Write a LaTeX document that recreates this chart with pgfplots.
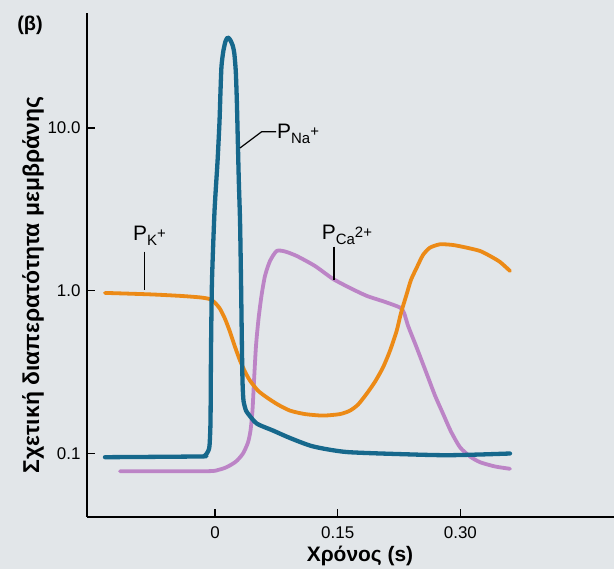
\documentclass[border=0pt]{standalone}
\usepackage{fontspec}
\setmainfont{Liberation Sans}
\usepackage{pgfplots}
\pgfplotsset{compat=1.18}
\definecolor{nablue}{RGB}{22,104,140}
\definecolor{korange}{RGB}{236,138,22}
\definecolor{capurple}{RGB}{188,132,198}
\definecolor{paper}{RGB}{226,230,233}
\newcommand{\perm}[2]{P\raisebox{-4.5bp}{\fontsize{15}{15}\selectfont #1\raisebox{7bp}{#2}}}

\begin{document}
\begin{tikzpicture}[x=1bp,y=1bp]
\useasboundingbox (0,0) rectangle (614,569);
\fill[paper] (0,0) rectangle (614,569);
\begin{axis}[
  at={(87bp,52.3bp)}, anchor=south west,
  scale only axis, width=527bp, height=503.7bp,
  xmin=-0.1565, xmax=0.4878,
  ymode=log, ymin=0.0411, ymax=50.8,
  axis x line=bottom, axis y line=left,
  axis line style={-, line width=2.2bp, black},
  tick align=inside, major tick length=8bp,
  tick style={line width=1.2bp, black},
  minor tick num=0, log basis y=10,
  ytick={0.1,1,10}, yticklabels={0.1,1.0,10.0},
  xtick={0,0.15,0.30}, xticklabels={0,0.15,0.30},
  tick label style={font=\fontsize{17}{17}\selectfont},
  xticklabel style={yshift=-6bp},
  yticklabel style={xshift=-3bp},
  every axis plot/.append style={line cap=round, line join=round},
]
% P Ca2+
\addplot[capurple, line width=3.8bp, smooth, tension=0.4] coordinates {
(-0.1161,0.0782) (-0.0101,0.0782) (0.0037,0.0796) (0.0143,0.0828) (0.0257,0.0897)
(0.0342,0.1004) (0.0403,0.1173) (0.0434,0.1389) (0.0458,0.1841) (0.0477,0.281)
(0.0501,0.460) (0.0532,0.674) (0.0568,0.932) (0.0611,1.236) (0.0672,1.526)
(0.0754,1.758) (0.0856,1.745) (0.0999,1.638) (0.1222,1.422) (0.1443,1.184)
(0.165,1.043) (0.1855,0.932) (0.2078,0.856) (0.2262,0.790) (0.2311,0.733)
(0.236,0.611) (0.2457,0.460) (0.2588,0.310) (0.269,0.2275) (0.2787,0.1765)
(0.2885,0.1369) (0.2995,0.1097) (0.3117,0.0963) (0.324,0.0888) (0.3423,0.0836)
(0.3606,0.0809)
};
% P K+
\addplot[korange, line width=3.8bp, smooth, tension=0.4] coordinates {
(-0.1345,0.972) (-0.0795,0.952) (-0.0428,0.932) (-0.0183,0.912) (-0.0061,0.890)
(0,0.845) (0.0061,0.776) (0.0122,0.674) (0.0183,0.561) (0.0244,0.454)
(0.0306,0.373) (0.0367,0.319) (0.0428,0.281) (0.0526,0.244) (0.0632,0.222)
(0.077,0.2003) (0.0917,0.1841) (0.11,0.1753) (0.132,0.1716) (0.1528,0.1753)
(0.165,0.1841) (0.1748,0.2003) (0.1855,0.234) (0.1956,0.277) (0.2054,0.339)
(0.2139,0.429) (0.2221,0.569) (0.2274,0.733) (0.2344,0.958) (0.2396,1.168)
(0.2466,1.389) (0.2543,1.662) (0.2628,1.842) (0.2751,1.932) (0.291,1.913)
(0.3077,1.842) (0.3240,1.758) (0.3362,1.638) (0.3484,1.505) (0.3606,1.326)
};
% P Na+
\addplot[nablue, line width=4.3bp, smooth, tension=0.4] coordinates {
(-0.1345,0.0953) (-0.0183,0.0963) (-0.0122,0.0976) (-0.0086,0.1033) (-0.0067,0.1124)
(-0.0055,0.160) (-0.0049,0.429) (-0.0037,1.151) (-0.0006,3.09) (0.0031,6.25)
(0.0055,11.0) (0.0067,16.8) (0.0079,23.9) (0.0101,29.5) (0.0128,34.0)
(0.0155,35.9) (0.0183,34.9) (0.0216,32.1) (0.0236,28.7) (0.0254,22.2)
(0.0267,14.6) (0.0279,8.29) (0.0291,4.72) (0.0306,2.68) (0.0318,1.151)
(0.0328,0.494) (0.0336,0.281) (0.0348,0.212) (0.0379,0.184) (0.0403,0.1765)
(0.051,0.1533) (0.0709,0.1389) (0.0917,0.1250) (0.1198,0.1110) (0.1614,0.1025)
(0.2421,0.0990) (0.2836,0.0980) (0.324,0.0990) (0.3606,0.1004)
};
\end{axis}
% annotations
\draw[line width=1.2bp] (240,421) -- (261.7,437.3) -- (276,437.3);
\node[anchor=west, inner sep=0, font=\fontsize{21}{21}\selectfont] at (277,435) {\perm{Na}{+}};
\draw[line width=1.2bp] (144.3,317.3) -- (144.3,279);
\node[anchor=west, inner sep=0, font=\fontsize{21}{21}\selectfont] at (133,333) {\perm{K}{+}};
\draw[line width=1.2bp] (334,322.3) -- (334,289);
\node[anchor=west, inner sep=0, font=\fontsize{21}{21}\selectfont] at (321.7,334) {\perm{Ca}{2+}};
\node[font=\bfseries\fontsize{20}{20}\selectfont] at (30,544) {(β)};
\node[rotate=90, font=\bfseries\fontsize{23}{23}\selectfont] at (33,284) {Σχετική διαπερατότητα μεμβράνης};
\node[font=\bfseries\fontsize{21}{21}\selectfont] at (360,13) {Χρόνος (s)};
\end{tikzpicture}
\end{document}
